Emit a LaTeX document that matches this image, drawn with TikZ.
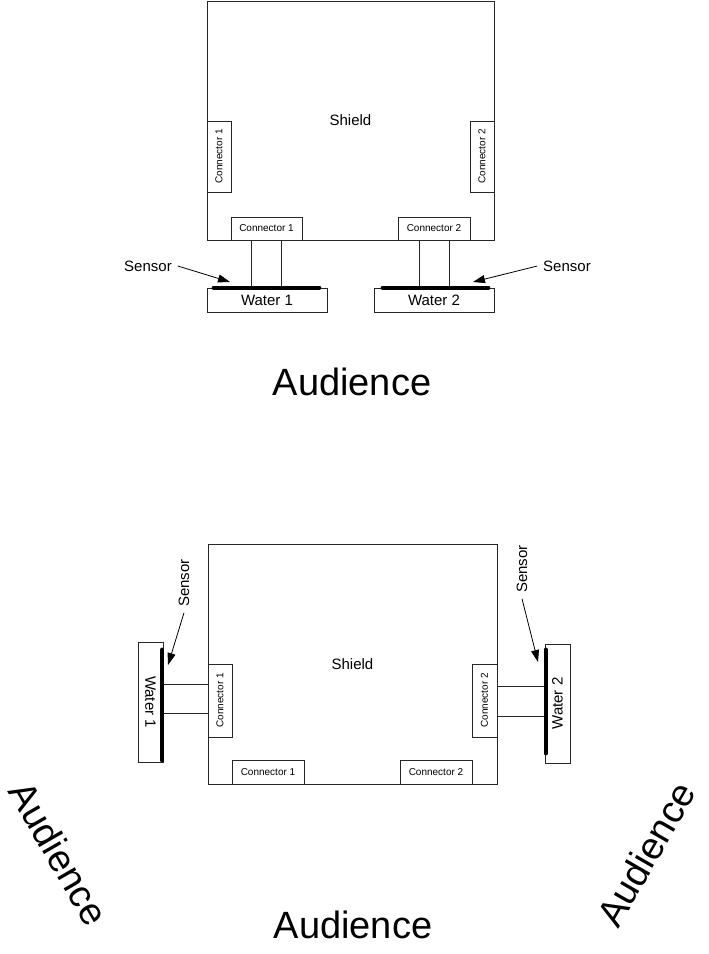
\documentclass[tikz,border=0pt]{standalone}
\usepackage{fontspec}
\setmainfont{Liberation Sans}
\usetikzlibrary{arrows.meta,calc}
\begin{document}
\begin{tikzpicture}[x=1pt,y=-1pt,
  box/.style={draw=black!85,line width=0.8pt,fill=white,inner sep=0pt},
  small/.style={font=\fontsize{10}{12}\selectfont},
  mid/.style={font=\fontsize{15}{18}\selectfont},
  big/.style={font=\fontsize{38}{44}\selectfont,inner sep=0pt},
  sensorbar/.style={line width=4pt,line cap=round,black},
  pipe/.style={draw=black!85,line width=0.8pt},
  arr/.style={line width=0.8pt,-{Triangle[length=12pt,width=8pt]}},
  lab/.style={mid,inner sep=2pt,outer sep=4pt}]
\useasboundingbox (0,0) rectangle (709,954);
\fill[white] (0,0) rectangle (709,954);

% ---------- top diagram ----------
\node[box,mid,minimum width=287pt,minimum height=239pt] (sh1) at (350.5,120.5) {Shield};
\node[box,small,minimum width=24pt,minimum height=71pt] (cl1) at (219,156.5) {\rotatebox{90}{Connector 1}};
\node[box,small,minimum width=24pt,minimum height=71pt] (cr2) at (482,156.5) {\rotatebox{90}{Connector 2}};
\node[box,small,minimum width=71pt,minimum height=23pt] (cb1) at (266.5,228.5) {Connector 1};
\node[box,small,minimum width=72pt,minimum height=23pt] (cb2) at (434,228.5) {Connector 2};
\node[box,mid,minimum width=120pt,minimum height=24pt] (w1) at (267,300) {Water 1};
\node[box,mid,minimum width=120pt,minimum height=24pt] (w2) at (434,300) {Water 2};

\coordinate (p1a) at ($(cb1.south)+(-15,0)$);
\coordinate (p1b) at ($(cb1.south)+(15,0)$);
\coordinate (p2a) at ($(cb2.south)+(-15,0)$);
\coordinate (p2b) at ($(cb2.south)+(15,0)$);
\draw[pipe] (p1a) -- (p1a |- w1.north);
\draw[pipe] (p1b) -- (p1b |- w1.north);
\draw[pipe] (p2a) -- (p2a |- w2.north);
\draw[pipe] (p2b) -- (p2b |- w2.north);

\draw[sensorbar] ($(w1.north west)+(7,0)$) -- ($(w1.north east)+(-8,0)$);
\draw[sensorbar] ($(w2.north west)+(9,0)$) -- ($(w2.north east)+(-6,0)$);

\node[lab] (s1) at (148,266) {Sensor};
\node[lab] (s2) at (567,266) {Sensor};
\coordinate (t1) at (230,282);
\coordinate (t2) at (473,282);
\draw[arr] (s1.east) -- (t1);
\draw[arr] (s2.west) -- (t2);

\node[big,anchor=base] (aud1) at (352,395) {Audience};

% ---------- bottom diagram ----------
\node[box,mid,minimum width=289pt,minimum height=240pt] (sh2) at (352.5,664) {Shield};
\node[box,small,minimum width=24pt,minimum height=73pt] (cl1b) at (220,700.5) {\rotatebox{90}{Connector 1}};
\node[box,small,minimum width=25pt,minimum height=73pt] (cr2b) at (484.5,700.5) {\rotatebox{90}{Connector 2}};
\node[box,small,minimum width=72pt,minimum height=24pt] (cb1b) at (268,772) {Connector 1};
\node[box,small,minimum width=72pt,minimum height=24pt] (cb2b) at (436,772) {Connector 2};
\node[box,mid,minimum width=25pt,minimum height=120pt] (w1b) at (150.5,702) {\rotatebox{-90}{Water 1}};
\node[box,mid,minimum width=25pt,minimum height=119pt] (w2b) at (557.5,703.5) {\rotatebox{90}{Water 2}};

\coordinate (q1a) at ($(cl1b.west)+(0,-16.5)$);
\coordinate (q1b) at ($(cl1b.west)+(0,12.5)$);
\coordinate (q2a) at ($(cr2b.east)+(0,-14.5)$);
\coordinate (q2b) at ($(cr2b.east)+(0,15.5)$);
\draw[pipe] (q1a) -- (q1a -| w1b.east);
\draw[pipe] (q1b) -- (q1b -| w1b.east);
\draw[pipe] (q2a) -- (q2a -| w2b.west);
\draw[pipe] (q2b) -- (q2b -| w2b.west);

\draw[sensorbar] ($(w1b.north east)+(-1,8)$) -- ($(w1b.south east)+(-1,-2)$);
\draw[sensorbar] ($(w2b.north west)+(1,6)$) -- ($(w2b.south west)+(1,-10)$);

\node[lab,rotate=90] (s1b) at (184,583) {Sensor};
\node[lab,rotate=90] (s2b) at (522,569) {Sensor};
\coordinate (t1b) at (168,665);
\coordinate (t2b) at (538,662);
\draw[arr] (s1b.west) -- (t1b);
\draw[arr] (s2b.west) -- (t2b);

\node[big,anchor=base] (aud2) at (353,938) {Audience};
\node[big,rotate=-60] (aud3) at (59,853) {Audience};
\node[big,rotate=60] (aud4) at (646,854) {Audience};
\end{tikzpicture}
\end{document}
